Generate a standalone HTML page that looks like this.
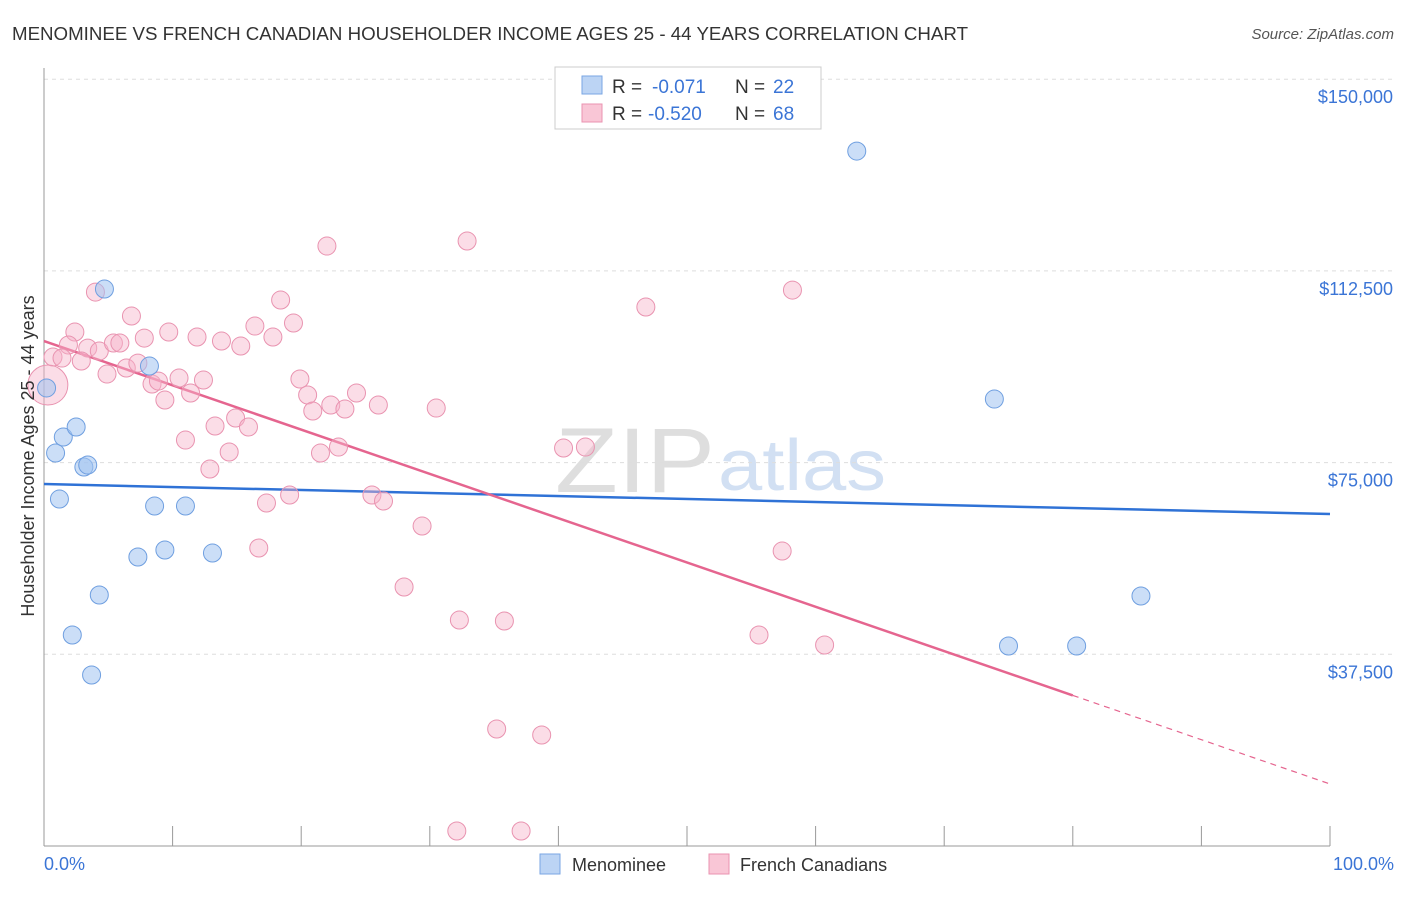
<!DOCTYPE html>
<html><head><meta charset="utf-8"><style>
body{margin:0;background:#fff;font-family:"Liberation Sans",sans-serif}
svg text{font-family:"Liberation Sans",sans-serif}
</style></head><body>
<svg id="c" width="1406" height="892">
<text x="12" y="40" font-size="18" fill="#333" textLength="956" lengthAdjust="spacingAndGlyphs">MENOMINEE VS FRENCH CANADIAN HOUSEHOLDER INCOME AGES 25 - 44 YEARS CORRELATION CHART</text>
<text x="1394" y="39" font-size="15" fill="#555" font-style="italic" text-anchor="end">Source: ZipAtlas.com</text>
<text x="555" y="492" font-size="92" fill="#dedede" textLength="160" lengthAdjust="spacingAndGlyphs" font-family="Liberation Serif">ZIP</text>
<text x="718" y="490" font-size="72" fill="#d2e0f3" textLength="168" lengthAdjust="spacingAndGlyphs">atlas</text>
<g id="grid"></g><g id="axes"></g><g id="trend"></g><g id="pts"></g>
<text transform="translate(34,456) rotate(-90)" font-size="18" fill="#333" text-anchor="middle">Householder Income Ages 25 - 44 years</text>
<text x="44" y="870" font-size="18" fill="#3b75d6">0.0%</text>
<text x="1394" y="870" font-size="18" fill="#3b75d6" text-anchor="end">100.0%</text>
<g>
<rect x="555" y="67" width="266" height="62" fill="#fff" stroke="#ccc"/>
<rect x="582" y="76" width="20" height="18" fill="#bcd4f4" stroke="#7aa6e3"/>
<rect x="582" y="104" width="20" height="18" fill="#f9c6d6" stroke="#ea93b0"/>
<text x="612" y="93" font-size="19" fill="#333">R =</text>
<text x="652" y="93" font-size="19" fill="#3b75d6">-0.071</text>
<text x="735" y="93" font-size="19" fill="#333">N =</text>
<text x="773" y="93" font-size="19" fill="#3b75d6">22</text>
<text x="612" y="120" font-size="19" fill="#333">R =</text>
<text x="648" y="120" font-size="19" fill="#3b75d6">-0.520</text>
<text x="735" y="120" font-size="19" fill="#333">N =</text>
<text x="773" y="120" font-size="19" fill="#3b75d6">68</text>
</g>
<g>
<rect x="540" y="854" width="20" height="20" fill="#bcd4f4" stroke="#7aa6e3"/>
<text x="572" y="871" font-size="18" fill="#333">Menominee</text>
<rect x="709" y="854" width="20" height="20" fill="#f9c6d6" stroke="#ea93b0"/>
<text x="740" y="871" font-size="18" fill="#333">French Canadians</text>
</g>
</svg>
<script>
const yTicks=[37500,75000,112500,150000];
const yTickLabels=["$37,500","$75,000","$112,500","$150,000"];
const blueX=[0.2,4.7,0.9,1.5,2.5,3.1,3.4,8.2,1.2,8.6,11.0,7.3,9.4,13.1,4.3,2.2,3.7,63.2,73.9,85.3,75.0,80.3];
const blueY=[89600,108950,76870,80000,81960,74130,74520,93890,67870,66500,66500,56530,57900,57310,49100,41270,33450,135940,87430,48900,39120,39120];
const pinkX=[4.0,6.8,18.4,19.4,2.4,1.9,3.4,4.3,5.4,5.9,7.8,9.7,11.9,13.8,15.3,16.4,17.8,0.7,1.4,2.9,4.9,6.4,7.3,8.4,8.9,10.5,11.4,12.4,9.4,19.9,20.5,20.9,22.3,23.4,24.3,26.0,30.5,14.9,15.9,13.3,11.0,14.4,12.9,21.5,22.9,25.5,26.4,19.1,17.3,29.4,16.7,0.3,22.0,32.9,46.8,58.2,40.4,42.1,57.4,28.0,32.3,35.8,55.6,60.7,35.2,38.7,32.1,37.1];
const pinkY=[108360,103670,106800,102300,100540,98000,97400,96820,98390,98390,99360,100540,99560,98780,97800,101710,99560,95650,95450,94870,92320,93500,94470,90370,90950,91540,88610,91150,87240,91350,88220,85090,86260,85480,88610,86260,85670,83720,81960,82150,79410,77070,73740,76870,78040,68660,67480,68660,67090,62590,58290,90170,117360,118340,105430,108750,77850,78040,57700,50660,44200,44010,41270,39320,22890,21710,2930,2930];
const blueTrend=[70810,64940];
const pinkTrend=[98780,12130];
const pinkSolidEnd=80;
const NS="http://www.w3.org/2000/svg";
const X=v=>44+v*12.86, Y=v=>846-v*191.7/37500;
function mk(t,a,p){const e=document.createElementNS(NS,t);for(const k in a)e.setAttribute(k,a[k]);p.appendChild(e);return e;}
const grid=document.getElementById('grid'),axes=document.getElementById('axes'),tr=document.getElementById('trend'),pts=document.getElementById('pts');
yTicks.forEach((t,i)=>{
 const l=mk('line',{x1:44,x2:1393,y1:Y(t),y2:Y(t),stroke:'#ddd','stroke-dasharray':'4,4'},grid);
 
 
 const tx=mk('text',{x:1393,y:Y(t)+24,'font-size':18,fill:'#3b75d6','text-anchor':'end'},grid);
 tx.textContent=yTickLabels[i];
 
 
});
const ya=mk('line',{x1:44,x2:44,y1:68,y2:846,stroke:'#999'},axes);


const xa=mk('line',{x1:44,x2:1330,y1:846,y2:846,stroke:'#999'},axes);


for(let i=1;i<=10;i++){const t=mk('line',{x1:X(i*10),x2:X(i*10),y1:826,y2:846,stroke:'#999'},axes);
 
 }
const bl=mk('line',{x1:X(0),x2:X(100),y1:Y(blueTrend[0]),y2:Y(blueTrend[1]),stroke:'#2f72d6','stroke-width':2.5},tr);


const pf=v=>pinkTrend[0]+(pinkTrend[1]-pinkTrend[0])*v/100;
const pl=mk('line',{x1:X(0),x2:X(pinkSolidEnd),y1:Y(pf(0)),y2:Y(pf(pinkSolidEnd)),stroke:'#e5658f','stroke-width':2.5},tr);


const pd=mk('line',{x1:X(pinkSolidEnd),x2:X(100),y1:Y(pf(pinkSolidEnd)),y2:Y(pf(100)),stroke:'#e5658f','stroke-width':1.2,'stroke-dasharray':'6,5'},tr);


pinkX.forEach((v,i)=>{const c=mk('circle',{cx:X(v),cy:Y(pinkY[i]),r:(i==51?20:9),fill:'rgba(246,180,202,0.45)',stroke:'#e993b0','stroke-width':1},pts);
 
 });
blueX.forEach((v,i)=>{const c=mk('circle',{cx:X(v),cy:Y(blueY[i]),r:9,fill:'rgba(160,195,240,0.55)',stroke:'#6f9fe0','stroke-width':1},pts);
 
 });
</script>
</body></html>
